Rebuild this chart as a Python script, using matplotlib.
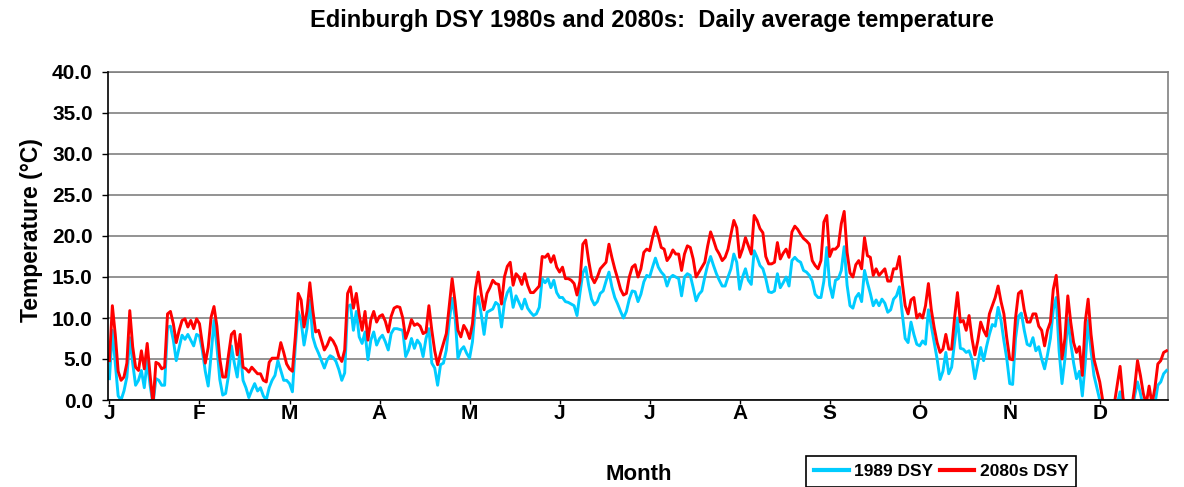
import numpy as np
import matplotlib
matplotlib.use("Agg")
import matplotlib.pyplot as plt

plt.rcParams['font.family'] = ['Liberation Sans', 'DejaVu Sans']
plt.rcParams['font.weight'] = 'bold'

# daily average temperature (deg C), day 0 = 1 Jan
temp_1989 = [
    2.6, 8.5, 4.5, 0.5, 0.0, 1.1, 2.8, 7.6, 4.5, 1.8,
    2.4, 3.6, 1.5, 4.8, 1.8, -0.5, 2.6, 2.4, 1.8, 1.8,
    8.9, 9.0, 7.3, 4.8, 6.4, 7.9, 7.4, 8.0, 7.3, 6.6,
    8.0, 7.8, 6.0, 3.5, 1.7, 5.5, 9.7, 6.5, 2.5, 0.6,
    0.8, 3.0, 6.6, 4.5, 2.8, 6.2, 2.4, 1.5, 0.3, 1.2,
    2.0, 1.1, 1.5, 0.5, 0.0, 1.5, 2.4, 3.0, 4.8, 3.6,
    2.4, 2.4, 2.0, 1.0, 6.5, 10.8, 9.6, 6.7, 8.7, 12.2,
    7.7, 6.5, 5.7, 4.8, 3.9, 4.9, 5.4, 5.2, 4.7, 3.7,
    2.4, 3.3, 11.4, 11.6, 8.5, 10.8, 7.7, 6.9, 8.3, 4.9,
    7.3, 8.3, 6.7, 7.5, 7.9, 7.1, 6.1, 8.1, 8.7, 8.7,
    8.6, 8.5, 5.3, 6.1, 7.5, 6.3, 7.3, 6.8, 5.3, 7.5,
    8.7, 4.5, 3.9, 1.8, 4.3, 4.5, 6.1, 9.6, 12.4, 10.2,
    5.1, 6.1, 6.5, 5.7, 5.1, 7.1, 11.4, 12.6, 10.5, 8.0,
    10.7, 10.9, 11.1, 11.9, 11.6, 8.9, 11.9, 13.1, 13.7, 11.3,
    12.7, 11.9, 11.1, 12.3, 11.2, 10.7, 10.3, 10.5, 11.3, 14.8,
    14.3, 14.8, 13.7, 14.6, 13.1, 12.5, 12.5, 12.0, 11.9, 11.7,
    11.5, 10.3, 13.0, 15.5, 16.2, 14.0, 12.3, 11.6, 12.0, 13.0,
    13.3, 14.5, 15.6, 13.8, 12.5, 11.7, 10.8, 10.0, 10.8, 12.3,
    13.3, 13.2, 12.0, 12.9, 14.4, 15.2, 15.0, 16.2, 17.3, 16.2,
    15.6, 15.2, 13.9, 14.9, 15.2, 15.0, 14.8, 12.7, 15.0, 15.4,
    15.2, 13.7, 12.1, 12.9, 13.3, 15.0, 16.5, 17.5, 16.4, 15.4,
    14.6, 13.9, 13.9, 15.0, 16.0, 17.8, 16.8, 13.5, 15.0, 16.0,
    14.6, 14.1, 18.2, 17.4, 16.4, 16.0, 14.8, 13.2, 13.1, 13.3,
    15.4, 13.7, 14.3, 15.0, 13.9, 17.0, 17.4, 17.0, 16.8, 15.8,
    15.6, 15.2, 14.5, 12.9, 12.5, 12.5, 14.5, 18.6, 14.0, 12.5,
    14.6, 14.8, 15.8, 18.7, 14.0, 11.5, 11.2, 12.5, 13.0, 12.0,
    15.8, 14.3, 13.0, 11.5, 12.2, 11.5, 12.3, 11.8, 10.7, 11.0,
    12.3, 12.7, 13.8, 10.5, 7.5, 7.0, 9.5, 8.0, 6.8, 6.6,
    7.2, 6.8, 11.0, 9.0, 7.0, 5.0, 2.5, 3.5, 5.8, 3.2,
    4.0, 7.0, 10.0, 6.3, 6.2, 5.8, 6.0, 5.0, 2.6, 4.4,
    6.4, 4.8, 6.5, 8.0, 9.2, 9.0, 11.3, 9.7, 7.2, 5.0,
    2.0, 1.9, 7.5, 10.2, 10.6, 8.5, 6.8, 6.6, 7.6, 6.0,
    6.5, 5.0, 3.8, 5.5, 7.5, 11.0, 12.5, 6.0, 2.0, 5.0,
    10.0, 7.0, 4.5, 2.6, 3.5, 0.5, 4.5, 9.7, 6.0, 3.0,
    1.5, 0.0, -1.5, -2.5, -3.0, -3.0, -1.5, -0.5, 1.0, -1.0,
    -2.5, -3.0, -2.0, 0.5, 2.2, 0.8, -1.0, -1.5, -0.5, -2.0,
    -0.5, 1.8, 2.2, 3.2, 3.6,
]

temp_2080s = [
    4.8, 11.5, 8.0, 3.5, 2.4, 2.8, 4.5, 10.9, 6.5, 4.0,
    3.6, 6.0, 3.8, 6.9, 3.0, -0.5, 4.6, 4.4, 3.8, 4.0,
    10.5, 10.8, 9.3, 7.0, 8.5, 9.7, 9.9, 8.9, 9.7, 8.7,
    9.9, 9.3, 6.8, 4.5, 6.4, 10.1, 11.4, 9.0, 5.0, 2.8,
    2.8, 5.5, 8.0, 8.4, 5.5, 8.0, 4.0, 3.8, 3.4, 4.0,
    3.6, 3.2, 3.2, 2.4, 2.2, 4.6, 5.1, 5.1, 5.1, 7.0,
    5.8, 4.4, 3.8, 3.5, 7.7, 13.0, 12.2, 8.9, 10.8, 14.3,
    11.0, 8.3, 8.5, 7.3, 6.1, 6.7, 7.6, 7.2, 6.5, 5.3,
    4.7, 6.1, 13.0, 13.8, 11.2, 13.0, 10.4, 8.5, 10.8, 7.3,
    9.8, 10.8, 9.5, 10.2, 10.4, 9.6, 8.3, 10.2, 11.2, 11.4,
    11.3, 10.0, 7.5, 8.5, 9.8, 9.1, 9.3, 9.0, 8.1, 8.3,
    11.5, 8.5, 6.0, 4.3, 5.7, 6.9, 8.1, 11.4, 14.8, 12.0,
    8.5, 7.7, 9.1, 8.5, 7.5, 9.3, 13.5, 15.6, 13.0, 11.0,
    13.0, 13.7, 14.6, 14.2, 14.1, 11.7, 15.0, 16.3, 16.8, 14.0,
    15.4, 15.0, 14.1, 15.4, 14.0, 13.1, 13.1, 13.5, 13.9, 17.5,
    17.4, 17.8, 16.8, 17.6, 16.2, 15.6, 16.2, 14.8, 14.8, 14.6,
    14.2, 12.8, 14.5, 19.0, 19.5, 17.0, 15.0, 14.3, 15.0, 16.0,
    16.4, 16.8, 19.0, 17.4, 16.0, 14.8, 13.5, 12.8, 13.0, 15.0,
    16.2, 16.5, 15.0, 16.0, 18.0, 18.4, 18.2, 19.8, 21.1, 20.0,
    18.6, 18.4, 17.0, 17.5, 18.3, 17.8, 17.8, 15.8, 17.8, 18.8,
    18.6, 17.2, 15.0, 15.6, 16.2, 16.8, 18.8, 20.5, 19.5, 18.4,
    17.8, 17.0, 17.4, 18.4, 20.2, 21.9, 21.0, 17.4, 18.4, 19.8,
    18.8, 17.8, 22.5, 21.9, 20.9, 20.4, 17.5, 16.6, 16.6, 16.8,
    19.2, 17.2, 17.9, 18.4, 17.4, 20.5, 21.2, 20.8, 20.2, 19.7,
    19.4, 19.0, 17.0, 16.4, 16.0, 17.0, 21.7, 22.5, 17.5, 18.4,
    18.4, 18.8, 21.5, 23.0, 18.0, 15.5, 15.0, 16.5, 17.0, 16.0,
    19.8, 17.6, 17.4, 15.2, 16.0, 15.2, 15.6, 16.0, 14.5, 14.5,
    16.0, 16.0, 17.5, 14.3, 11.5, 10.5, 12.2, 12.5, 10.0, 10.5,
    10.0, 11.5, 14.2, 11.0, 8.8, 7.0, 5.8, 6.2, 8.0, 6.2,
    6.2, 10.0, 13.1, 9.5, 9.7, 8.5, 10.3, 7.5, 5.5, 7.2,
    9.5, 8.5, 7.8, 10.5, 11.5, 12.5, 13.9, 12.0, 10.5, 7.5,
    5.0, 4.9, 10.0, 13.0, 13.3, 11.0, 9.5, 9.5, 10.5, 10.5,
    9.0, 8.5, 6.6, 8.5, 9.5, 13.5, 15.2, 11.0, 5.0, 7.5,
    12.7, 9.5, 7.0, 5.8, 6.5, 3.0, 9.5, 12.3, 8.0, 5.0,
    3.6, 2.2, 0.0, -1.5, -2.0, -2.0, -0.5, 1.8, 4.1, 0.3,
    -1.5, -2.0, -1.0, 1.5, 4.8, 3.0, 0.8, -0.5, 1.7, -0.5,
    1.5, 4.4, 4.8, 5.8, 6.0,
]

month_labels = ['J', 'F', 'M', 'A', 'M', 'J', 'J', 'A', 'S', 'O', 'N', 'D']
y_ticks = [0, 5, 10, 15, 20, 25, 30, 35, 40]

W, H = 1184, 487
fig = plt.figure(figsize=(W / 100, H / 100), dpi=100)
ax = fig.add_axes([108 / W, 1 - 400 / H, 1060 / W, 328 / H])

days = np.arange(len(temp_1989)) + 0.5
l1, = ax.plot(days, temp_1989, color='#00CCFF', lw=2.1, label='1989 DSY', zorder=3)
l2, = ax.plot(days, temp_2080s, color='#FF0000', lw=2.1, label='2080s DSY', zorder=4)

ax.set_xlim(0, 365)
ax.set_ylim(0, 40)
ax.set_yticks(y_ticks)
ax.set_yticklabels(['%.1f' % v for v in y_ticks], fontsize=15, fontweight='bold')
ax.set_xticks([31 * k + 0.5 for k in range(12)])
ax.set_xticklabels(month_labels, fontsize=15, fontweight='bold')
ax.tick_params(axis='y', length=4, width=1, pad=7)
ax.tick_params(axis='x', length=3, width=1, pad=0)

ax.yaxis.grid(True, color='#808080', lw=1.2)
ax.set_axisbelow(True)
for s in ['top', 'right']:
    ax.spines[s].set_color('#808080')
    ax.spines[s].set_linewidth(1.2)
for s in ['left', 'bottom']:
    ax.spines[s].set_color('black')
    ax.spines[s].set_linewidth(1.2)
    ax.spines[s].set_zorder(5)

fig.text(652 / W, 1 - 20 / H, 'Edinburgh DSY 1980s and 2080s:  Daily average temperature',
         ha='center', va='center', fontsize=17, fontweight='bold')
fig.text(32 / W, 1 - 230 / H, 'Temperature (\u00b0C)', rotation=90,
         ha='center', va='center', fontsize=16.5, fontweight='bold')
fig.text(639 / W, 1 - 474 / H, 'Month', ha='center', va='center',
         fontsize=16, fontweight='bold')

leg = fig.legend(handles=[l1, l2], loc='upper left', bbox_to_anchor=(806 / W, 1 - 456 / H),
                 ncol=2, fontsize=12.5, frameon=True, fancybox=False, framealpha=1,
                 edgecolor='black', handlelength=2.0, handletextpad=0.3,
                 columnspacing=0.4, borderpad=0.45, borderaxespad=0)
leg.get_frame().set_linewidth(1.2)
for t in leg.get_texts():
    t.set_fontweight('bold')
for h in leg.get_lines():
    h.set_linewidth(3)

fig.savefig('out.png', dpi=100)
